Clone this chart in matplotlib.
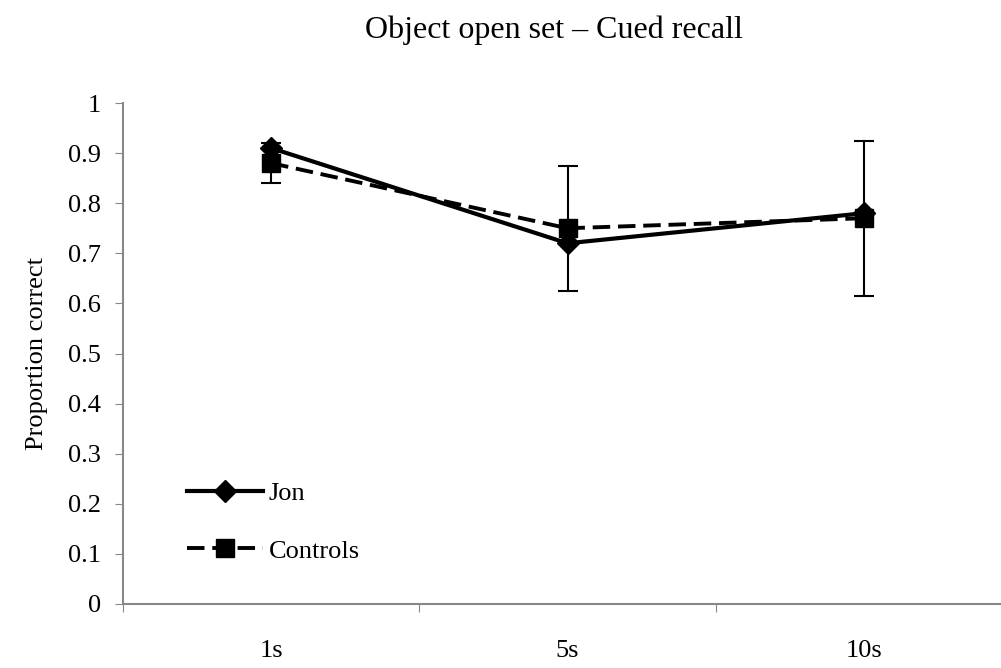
import matplotlib.pyplot as plt
from matplotlib.lines import Line2D
import numpy as np

plt.rcParams['font.family'] = ['Liberation Serif', 'DejaVu Serif']

delays = ['1s', '5s', '10s']
jon = [0.91, 0.72, 0.78]
controls = [0.88, 0.75, 0.77]
controls_err = [0.04, 0.125, 0.155]
yticks = [0, 0.1, 0.2, 0.3, 0.4, 0.5, 0.6, 0.7, 0.8, 0.9, 1]
ytick_labels = ['0', '0.1', '0.2', '0.3', '0.4', '0.5', '0.6', '0.7', '0.8', '0.9', '1']

fig = plt.figure(figsize=(10.01, 6.68), dpi=100)
# axes runs past the right edge, as in the cropped original
ax = fig.add_axes([123/1001, 64/668, 889/1001, 501/668])

x = np.arange(len(delays))
dash = (0, (4.5, 2))
ax.errorbar(x, controls, yerr=controls_err, color='black', lw=2.8,
            linestyle=dash, marker='s', markersize=13,
            elinewidth=1.5, capsize=7, capthick=1.5, zorder=2)
ax.plot(x, jon, color='black', lw=3, marker='D', markersize=11, zorder=3)

ax.set_xlim(-0.5, 2.5)
ax.set_ylim(0, 1)
ax.set_yticks(yticks)
ax.set_yticklabels(ytick_labels, fontsize=19)
ax.set_xticks([-0.5, 0.5, 1.5, 2.5])
ax.set_xticklabels([])
ax.set_xticks(x, minor=True)
ax.set_xticklabels(delays, minor=True, fontsize=19)
ax.tick_params(axis='x', which='minor', length=0, pad=26)
ax.tick_params(axis='x', which='major', length=6, color='#888888')
ax.tick_params(axis='y', length=6, color='#888888', pad=10)

for s in ['top', 'right']:
    ax.spines[s].set_visible(False)
for s in ['left', 'bottom']:
    ax.spines[s].set_color('#888888')
    ax.spines[s].set_linewidth(1.5)

ax.set_ylabel('Proportion correct', fontsize=19, labelpad=14)
fig.text(0.553, 0.955, 'Object open set \u2013 Cued recall', fontsize=23,
         ha='center', va='center')

h_jon = Line2D([], [], color='black', lw=3, marker='D', markersize=11)
h_con = Line2D([], [], color='black', lw=2.8, linestyle=dash, marker='s', markersize=13)
ax.legend([h_jon, h_con], ['Jon', 'Controls'], loc='lower left',
          bbox_to_anchor=(0.045, 0.035), frameon=False, fontsize=19,
          handlelength=2.9, numpoints=1, labelspacing=1.3,
          handletextpad=0.2)

fig.savefig('out.png', dpi=100)
